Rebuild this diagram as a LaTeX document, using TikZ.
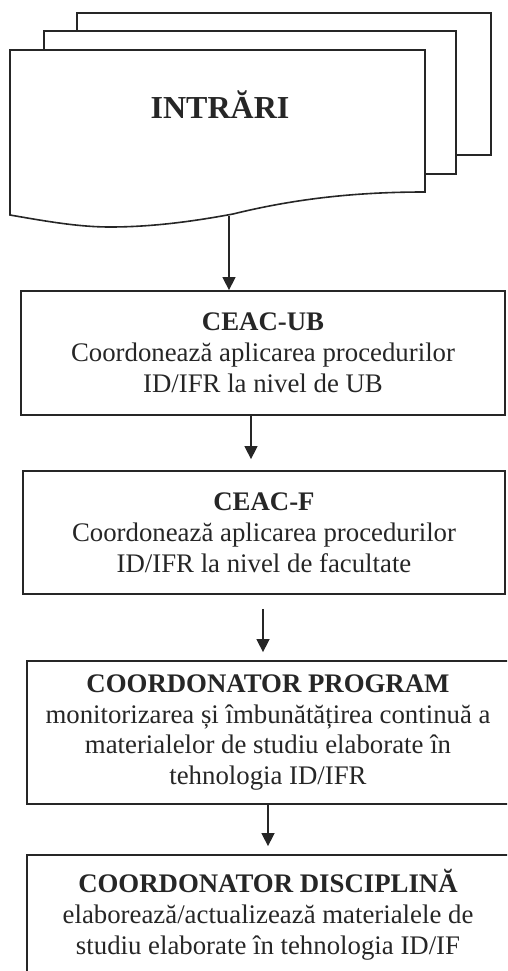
\documentclass[tikz,border=0pt]{standalone}
\usepackage{fontspec}
\setmainfont{Liberation Serif}
\usetikzlibrary{arrows.meta,calc}
\begin{document}
\begin{tikzpicture}[x=1pt,y=-1pt,
  page/.style={draw=black!85,line width=1.6pt,fill=white},
  stagebox/.style={draw=black!85,line width=1.8pt,fill=white,inner sep=0pt,
    align=center,font=\fontsize{26.8}{30.8}\selectfont,text=black!85},
  flow/.style={draw=black!85,line width=1.5pt,-{Triangle[length=13pt,width=13pt]}}]
\useasboundingbox (0,0) rectangle (507,971);
\clip (0,0) rectangle (507,971);
% stacked document pages
\path[page] (77,13) rectangle (491,155);
\path[page] (44,31) rectangle (456,174);
\path[page] (10,215) -- (10,50) -- (425,50) -- (425,192)
  .. controls (350,192) and (290,200) .. (233,214)
  .. controls (190,222) and (150,227) .. (110,227)
  .. controls (80,227) and (50,222) .. (10,215) -- cycle;
\node[anchor=base,font=\bfseries\fontsize{32}{36}\selectfont,text=black!85] (in) at (220,118) {INTRĂRI};
\coordinate (docout) at (229,216);
% boxes
\node[stagebox,minimum width=484pt,minimum height=124pt] (b1) at (263,353)
  {\textbf{CEAC-UB}\\Coordonează aplicarea procedurilor\\ID/IFR la nivel de UB};
\node[stagebox,minimum width=482pt,minimum height=123pt] (b2) at (264,532.5)
  {\textbf{CEAC-F}\\Coordonează aplicarea procedurilor\\ID/IFR la nivel de facultate};
\node[stagebox,minimum width=482pt,minimum height=143pt] (b3) at (268,732.5)
  {\textbf{COORDONATOR PROGRAM}\\monitorizarea și îmbunătățirea continuă a\\materialelor de studiu elaborate în\\tehnologia ID/IFR};
\node[stagebox,minimum width=482pt,minimum height=120pt] (b4) at (268,915)
  {\textbf{COORDONATOR DISCIPLINĂ}\\elaborează/actualizează materialele de\\studiu elaborate în tehnologia ID/IF};
% connectors
\draw[flow] (docout) -- (docout |- b1.north);
\draw[flow,shorten >=11pt] ($(b1.south)+(-12,0)$) -- ($(b2.north)+(-13,0)$);
\draw[flow,shorten <=14pt,shorten >=8pt] ($(b2.south)+(-1,0)$) -- ($(b3.north)+(-5,0)$);
\draw[flow,shorten >=8pt] (b3.south) -- (b4.north);
\end{tikzpicture}
\end{document}
